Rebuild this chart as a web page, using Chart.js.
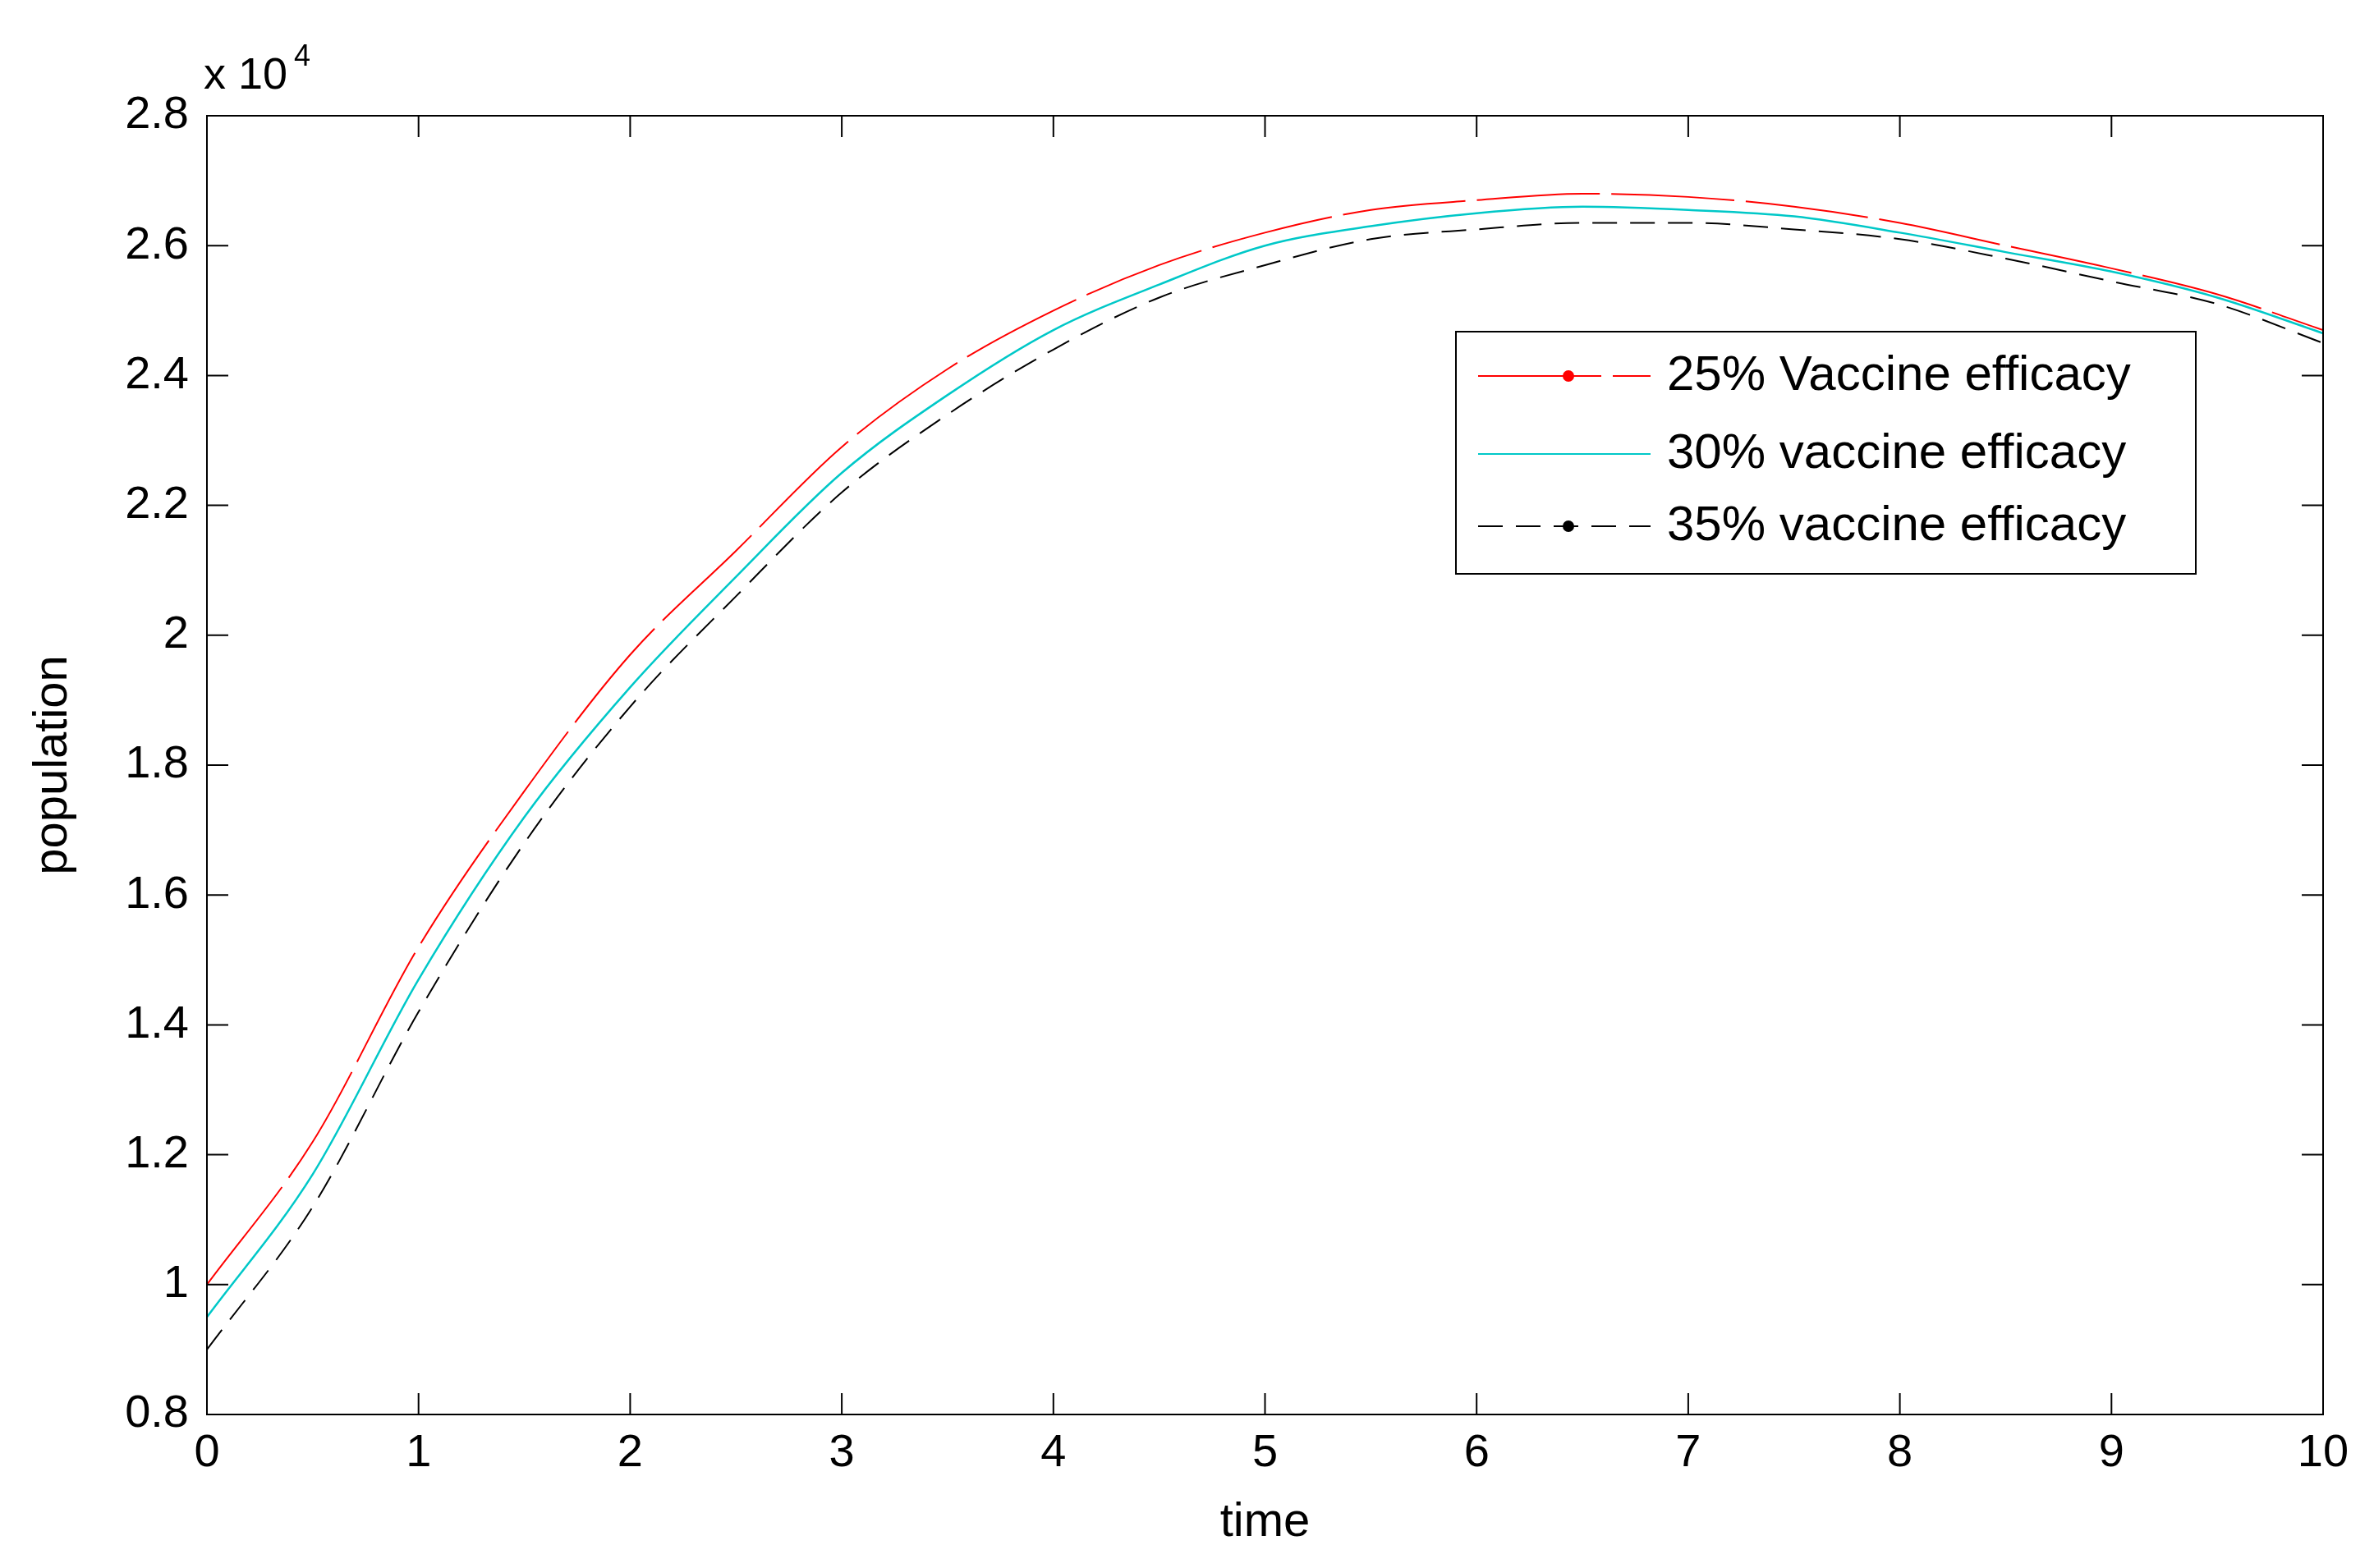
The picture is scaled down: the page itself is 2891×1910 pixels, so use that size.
<!DOCTYPE html>
<html><head><meta charset="utf-8">
<script src="https://cdn.jsdelivr.net/npm/chart.js@4"></script>
<style>html,body{margin:0;padding:0;background:#fff}#w{width:2891px;height:1910px}</style>
</head><body><div id="w"><canvas id="c"></canvas></div>
<script>
const times=[0,0.5,1,1.5,2,2.5,3,3.5,4,4.5,5,5.5,6,6.5,7,7.5,8,8.5,9,9.5,10];
const eff25=[1.00,1.22,1.52,1.76,1.97,2.13,2.29,2.41,2.50,2.57,2.62,2.655,2.67,2.68,2.675,2.66,2.635,2.60,2.565,2.525,2.47];
const eff30=[0.95,1.17,1.47,1.72,1.92,2.09,2.25,2.37,2.47,2.54,2.60,2.63,2.65,2.66,2.655,2.645,2.62,2.59,2.56,2.52,2.465];
const eff35=[0.90,1.12,1.42,1.68,1.89,2.06,2.22,2.34,2.44,2.52,2.57,2.61,2.625,2.635,2.635,2.625,2.61,2.58,2.545,2.51,2.45];
const labels=['25% Vaccine efficacy','30% vaccine efficacy','35% vaccine efficacy'];
const yTicks=[0.8,1,1.2,1.4,1.6,1.8,2,2.2,2.4,2.6,2.8];
const xTicks=[0,1,2,3,4,5,6,7,8,9,10];
const pts=a=>a.map((v,i)=>({x:times[i],y:v}));
const F='"Liberation Sans", Arial, sans-serif';
const frame={id:'frame',afterDraw(ch){
 const c=ch.ctx,a=ch.chartArea,xs=ch.scales.x,ys=ch.scales.y;
 c.save();c.strokeStyle='#000';c.lineWidth=2;
 c.strokeRect(a.left,a.top,a.right-a.left,a.bottom-a.top);
 c.beginPath();
 xTicks.forEach(t=>{const x=xs.getPixelForValue(t);c.moveTo(x,a.bottom);c.lineTo(x,a.bottom-26);c.moveTo(x,a.top);c.lineTo(x,a.top+26);});
 yTicks.forEach(t=>{const y=ys.getPixelForValue(t);c.moveTo(a.left,y);c.lineTo(a.left+26,y);c.moveTo(a.right,y);c.lineTo(a.right-26,y);});
 c.stroke();
 c.fillStyle='#000';c.font='54px '+F;c.textBaseline='alphabetic';c.textAlign='left';
 c.fillText('x 10',248,108);c.font='36px '+F;c.fillText('4',358,80);
 const L=1773,T=404,R=2674,B=699;
 c.fillStyle='#fff';c.fillRect(L,T,R-L,B-T);c.lineWidth=2;c.strokeRect(L,T,R-L,B-T);
 const rows=[[458,'#ff0000',[150,14],true],[553,'#00c8c8',[],false],[641,'#000',[30,16],true]];
 c.font='60px '+F;
 rows.forEach((r,i)=>{c.strokeStyle=r[1];c.lineWidth=2;c.setLineDash(r[2]);c.beginPath();c.moveTo(1800,r[0]);c.lineTo(2010,r[0]);c.stroke();c.setLineDash([]);
  if(r[3]){c.fillStyle=r[1];c.beginPath();c.arc(1910,r[0],7,0,Math.PI*2);c.fill();}
  c.fillStyle='#000';c.textBaseline='middle';c.fillText(labels[i],2030,r[0]);});
 c.restore();}};
new Chart(document.getElementById('c'),{type:'line',
 data:{datasets:[
  {data:pts(eff25),borderColor:'#ff0000',borderWidth:2,borderDash:[150,14],pointRadius:0,cubicInterpolationMode:'monotone'},
  {data:pts(eff30),borderColor:'#00c8c8',borderWidth:2.5,pointRadius:0,cubicInterpolationMode:'monotone'},
  {data:pts(eff35),borderColor:'#000',borderWidth:2,borderDash:[30,16],pointRadius:0,cubicInterpolationMode:'monotone'}]},
 options:{responsive:true,maintainAspectRatio:false,animation:false,devicePixelRatio:1,
  layout:{padding:{top:141,right:62,left:0,bottom:0}},
  plugins:{legend:{display:false},tooltip:{enabled:false}},
  scales:{
   x:{type:'linear',min:0,max:10,afterBuildTicks:s=>{s.ticks=xTicks.map(v=>({value:v}));},
    afterFit:s=>{s.height=1910-1723;},
    grid:{display:false},border:{display:false},
    ticks:{color:'#000',font:{size:56,family:F},padding:6,maxRotation:0},
    title:{display:true,text:'time',color:'#000',font:{size:58,family:F},padding:{top:0,bottom:20}}},
   y:{min:0.8,max:2.8,afterBuildTicks:s=>{s.ticks=yTicks.map(v=>({value:v}));},
    afterFit:s=>{s.width=252;},
    grid:{display:false},border:{display:false},
    ticks:{color:'#000',font:{size:56,family:F},padding:14,callback:v=>String(+v.toFixed(1))},
    title:{display:true,text:'population',color:'#000',font:{size:58,family:F},padding:{top:30,bottom:10}}}}},
 plugins:[frame]});
</script></body></html>
